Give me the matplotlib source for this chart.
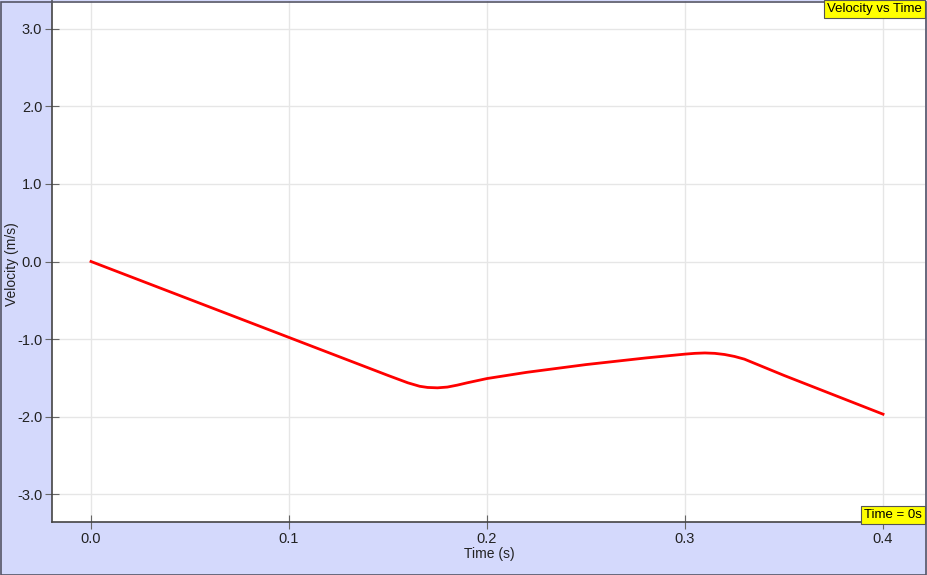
import matplotlib.pyplot as plt
from matplotlib.patches import Rectangle

plt.rcParams['font.family'] = ['Liberation Sans', 'DejaVu Sans']

# velocity vs time data
time = [0.0, 0.05, 0.1, 0.15, 0.16, 0.166, 0.17, 0.175, 0.18, 0.185, 0.19, 0.2, 0.22, 0.25, 0.28,
        0.3, 0.305, 0.31, 0.315, 0.32, 0.325, 0.33, 0.35, 0.4]
velocity = [0.0, -0.49, -0.98, -1.47, -1.565, -1.61, -1.625, -1.63, -1.62, -1.595, -1.565, -1.51, -1.43,
            -1.33, -1.245, -1.195, -1.185, -1.18, -1.185, -1.2, -1.225, -1.26, -1.47, -1.97]

x_ticks = [0.0, 0.1, 0.2, 0.3, 0.4]
y_ticks = [-3.0, -2.0, -1.0, 0.0, 1.0, 2.0, 3.0]

W, H = 928, 575
fig = plt.figure(figsize=(W / 100, H / 100), dpi=100)
fig.patch.set_facecolor('#d4d9fc')
fig.patches.append(Rectangle((0.5 / W, 0.5 / H), 1 - 2 / W, 1 - 2 / H, transform=fig.transFigure,
                             fill=False, edgecolor='#555566', linewidth=1.2))

ax = fig.add_axes([52 / W, (H - 522) / H, (925 - 52) / W, 521 / H])
ax.set_facecolor('white')
ax.plot(time, velocity, color='#ff0000', linewidth=2)

ax.set_xlim(-0.0197, 0.4212)
ax.set_ylim(-3.361, 3.361)
ax.set_xticks(x_ticks)
ax.set_xticklabels([f"{v:.1f}" for v in x_ticks])
ax.set_yticks(y_ticks)
ax.set_yticklabels([f"{v:.1f}" for v in y_ticks])
ax.grid(True, color='#e6e6e6', linewidth=1)
ax.set_axisbelow(True)
ax.tick_params(direction='inout', length=10, color='#666666', labelsize=10.5, labelcolor='#222222', pad=2)
for s in ['top', 'right']:
    ax.spines[s].set_visible(False)
for s in ['left', 'bottom']:
    ax.spines[s].set_color('#444444')
    ax.spines[s].set_linewidth(1.2)

fig.text(12 / W, 1 - 264 / H, "Velocity (m/s)", rotation=90, ha='center', va='center', fontsize=10, color='#222222')
fig.text(489 / W, 1 - 554 / H, "Time (s)", ha='center', va='center', fontsize=10, color='#222222')

box = dict(boxstyle='square,pad=0.2', facecolor='#ffff00', edgecolor='#555555', linewidth=0.8)
fig.text(922 / W, 1 - 9 / H, "Velocity vs Time", ha='right', va='center', fontsize=9.5, bbox=box)
fig.text(922 / W, 1 - 515 / H, "Time = 0s", ha='right', va='center', fontsize=9.5, bbox=box)

fig.savefig('out.png', dpi=100, facecolor=fig.get_facecolor())
